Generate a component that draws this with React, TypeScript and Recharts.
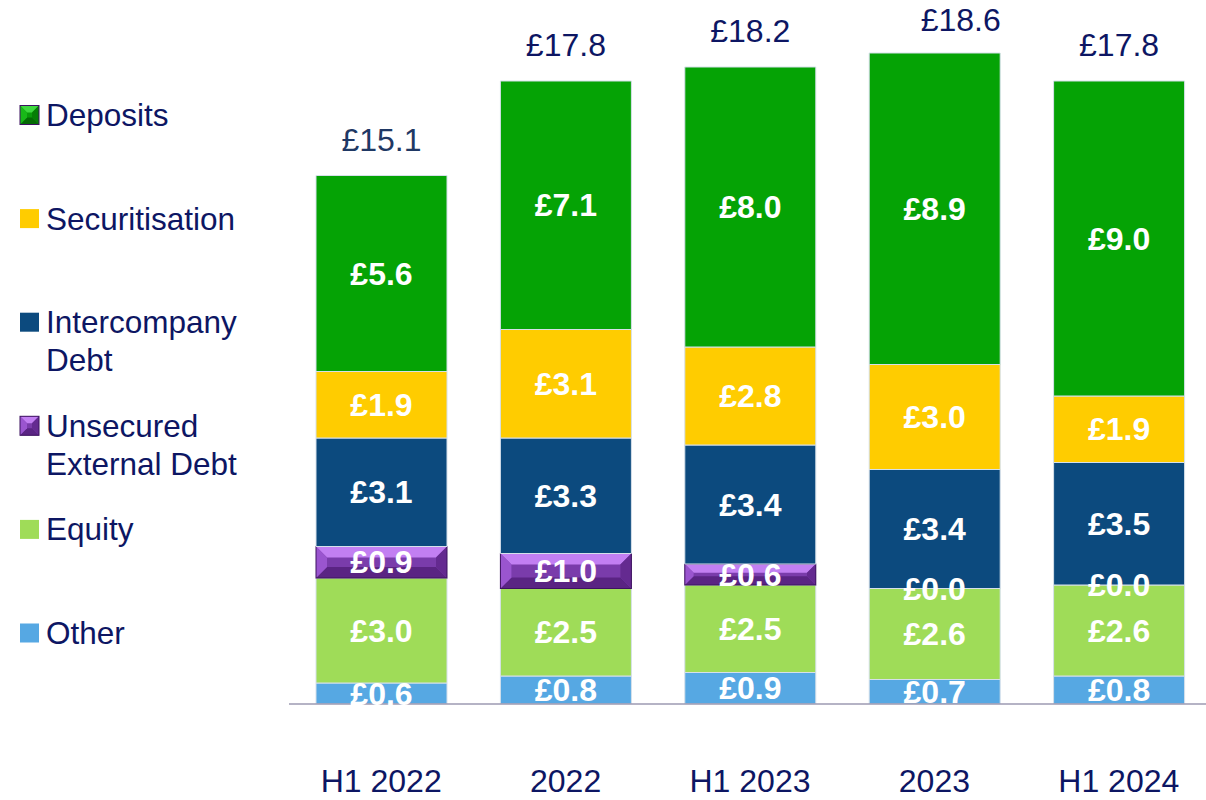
import React from 'react';
import { BarChart, Bar, XAxis, YAxis, LabelList } from 'recharts';

const categories = ['H1 2022', '2022', 'H1 2023', '2023', 'H1 2024'];
const other = [0.6, 0.8, 0.9, 0.7, 0.8];
const equity = [3.0, 2.5, 2.5, 2.6, 2.6];
const unsecured = [0.9, 1.0, 0.6, 0.0, 0.0];
const intercompany = [3.1, 3.3, 3.4, 3.4, 3.5];
const securitisation = [1.9, 3.1, 2.8, 3.0, 1.9];
const deposits = [5.6, 7.1, 8.0, 8.9, 9.0];
const totals = [15.1, 17.8, 18.2, 18.6, 17.8];

const data = categories.map((c, i) => ({
  name: c,
  other: other[i],
  equity: equity[i],
  unsecured: unsecured[i],
  intercompany: intercompany[i],
  securitisation: securitisation[i],
  deposits: deposits[i],
  total: totals[i],
}));

const FONT = "'Liberation Sans', Arial, sans-serif";
const NAVY = '#0d1663';

const COLORS = {
  deposits: '#05a305',
  securitisation: '#ffcc00',
  intercompany: '#0c4a7e',
  unsecured: '#7433a6',
  equity: '#9fdc58',
  other: '#56a8e3',
};

const legendItems = [
  { key: 'deposits', lines: ['Deposits'], bevel: 'green' },
  { key: 'securitisation', lines: ['Securitisation'] },
  { key: 'intercompany', lines: ['Intercompany', 'Debt'] },
  { key: 'unsecured', lines: ['Unsecured', 'External Debt'], bevel: 'purple' },
  { key: 'equity', lines: ['Equity'] },
  { key: 'other', lines: ['Other'] },
];

const BEVELS: Record<string, { base: string; top: string; bottom: string; left: string; right: string }> = {
  purple: { base: '#7a3cab', top: '#c27ff2', bottom: '#5a2483', left: '#9a55cf', right: '#642a90' },
  green: { base: '#0a9a0a', top: '#3fd83f', bottom: '#056a05', left: '#18b818', right: '#067e06' },
};

function BevelRect({ x, y, width, height, scheme, b }: any) {
  const c = BEVELS[scheme];
  if (!height || height <= 0) return null;
  const bb = Math.min(b, height / 2, width / 2);
  const p = (pts: number[][]) => pts.map((q) => q.join(',')).join(' ');
  return (
    <g>
      <rect x={x} y={y} width={width} height={height} fill={c.base} />
      <polygon points={p([[x, y], [x + width, y], [x + width - bb, y + bb], [x + bb, y + bb]])} fill={c.top} />
      <polygon points={p([[x, y + height], [x + width, y + height], [x + width - bb, y + height - bb], [x + bb, y + height - bb]])} fill={c.bottom} />
      <polygon points={p([[x, y], [x + bb, y + bb], [x + bb, y + height - bb], [x, y + height]])} fill={c.left} />
      <polygon points={p([[x + width, y], [x + width - bb, y + bb], [x + width - bb, y + height - bb], [x + width, y + height]])} fill={c.right} />
      <rect x={x} y={y} width={width} height={height} fill="none" stroke="#3d1260" strokeWidth={1} />
    </g>
  );
}

const PurpleShape = (props: any) => {
  const { x, y, width, height } = props;
  return <BevelRect x={x} y={y} width={width} height={height} scheme="purple" b={Math.min(11, height * 0.42)} />;
};

const SegLabel = (props: any) => {
  const { x, y, width, height, value } = props;
  return (
    <text
      x={x + width / 2}
      y={y + height / 2}
      textAnchor="middle"
      dominantBaseline="central"
      fill="#ffffff"
      fontFamily={FONT}
      fontWeight="bold"
      fontSize={32}
    >
      {'£' + Number(value).toFixed(1)}
    </text>
  );
};

const TotalLabel = (props: any) => {
  const { x, y, width, index } = props;
  const t = totals[index];
  const dx = index === 3 ? 26 : 0;
  const dy = index === 3 ? 33 : 36;
  return (
    <text
      x={x + width / 2 + dx}
      y={y - dy}
      textAnchor="middle"
      dominantBaseline="central"
      fill={index === 0 ? '#1f3864' : NAVY}
      fontFamily={FONT}
      fontSize={32}
    >
      {'£' + t.toFixed(1)}
    </text>
  );
};

function LegendPanel() {
  return (
    <svg width={290} height={800} style={{ position: 'absolute', left: 0, top: 0 }}>
      {legendItems.map((it, i) => {
        const cy = 115 + i * 103.6;
        const sx = 20;
        const sy = cy - 9.5;
        return (
          <g key={it.key}>
            {it.bevel ? (
              <BevelRect x={sx} y={sy} width={19} height={19} scheme={it.bevel} b={7} />
            ) : (
              <rect x={sx} y={sy} width={19} height={19} fill={(COLORS as any)[it.key]} />
            )}
            {it.lines.map((ln, j) => (
              <text
                key={j}
                x={46}
                y={cy + j * 38}
                dominantBaseline="central"
                fill={NAVY}
                fontFamily={FONT}
                fontSize={31.5}
              >
                {ln}
              </text>
            ))}
          </g>
        );
      })}
    </svg>
  );
}

const series: { key: keyof typeof COLORS }[] = [
  { key: 'other' },
  { key: 'equity' },
  { key: 'unsecured' },
  { key: 'intercompany' },
  { key: 'securitisation' },
  { key: 'deposits' },
];

export default function App() {
  return (
    <div style={{ position: 'absolute', left: 0, top: 0, width: 1206, height: 800, overflow: 'hidden', background: '#ffffff' }}>
      <BarChart
        width={1211}
        height={800}
        data={data}
        margin={{ top: 4, right: 0, bottom: 0, left: 289 }}
        barSize={131}
      >
        <YAxis hide domain={[0, 20]} type="number" allowDataOverflow />
        <XAxis
          dataKey="name"
          height={96}
          tickLine={false}
          tickSize={0}
          tickMargin={65}
          axisLine={{ stroke: '#9c9ab2', strokeWidth: 1.5 }}
          tick={{ fill: NAVY, fontSize: 32, fontFamily: FONT }}
          interval={0}
        />
        {series.map((s) => (
          <Bar
            key={s.key}
            dataKey={s.key}
            stackId="a"
            fill={COLORS[s.key]}
            stroke={s.key === 'unsecured' ? undefined : '#d6e0ea'}
            strokeWidth={s.key === 'unsecured' ? 0 : 1}
            isAnimationActive={false}
            shape={s.key === 'unsecured' ? PurpleShape : undefined}
          >
            <LabelList dataKey={s.key} content={SegLabel} />
            {s.key === 'deposits' ? <LabelList dataKey="total" content={TotalLabel} /> : null}
          </Bar>
        ))}
      </BarChart>
      <LegendPanel />
    </div>
  );
}
